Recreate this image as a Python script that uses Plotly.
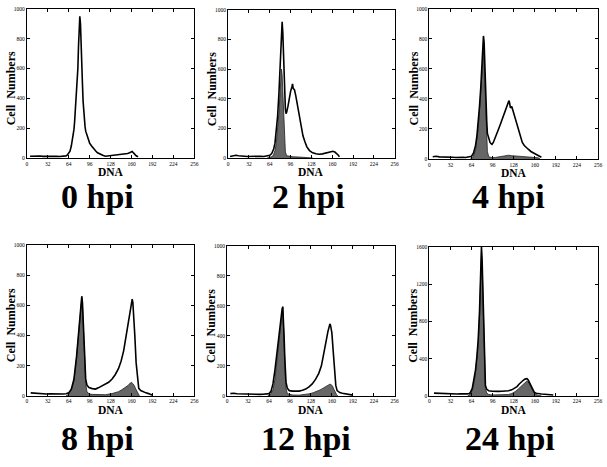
import plotly.graph_objects as go

W, H = 607, 467

# ---------------- data (DNA channel, cell numbers) ----------------
P1_LINE_X = [5,10,15,20,25,30,35,40,45,50,55,60,62,64,66,68,70,72,73,74,76,78,79,80,81,82,83,84,85,86,87,88,89,90,92,94,96,99,102,105,108,112,116,120,125,130,135,140,145,150,154,157,159,161,163,165,167,170]
P1_LINE_Y = [12,14,12,13,11,12,10,11,12,10,11,14,20,30,45,80,130,190,240,300,420,600,750,880,950,900,800,650,500,380,300,250,210,180,150,120,100,80,60,48,35,25,18,12,14,16,18,20,22,27,30,35,40,44,34,24,15,8]

P2_LINE_X = [3,8,12,16,20,25,30,35,40,45,50,55,60,64,67,70,72,74,76,78,80,81,82,83,84,85,86,87,88,89,90,92,94,96,98,99,100,102,104,106,108,110,112,115,118,121,125,130,135,140,145,150,155,158,161,164,167,169,171]
P2_LINE_Y = [10,14,18,15,12,12,10,11,10,11,12,10,12,18,30,60,100,170,280,430,650,800,900,920,850,700,520,400,330,300,310,350,410,450,480,500,470,460,420,370,310,260,210,150,110,75,50,35,28,25,28,32,38,42,45,40,30,20,8]
P2_FILL_X = [60,64,68,70,72,74,76,78,80,81,82,83,84,85,86,87,88,90,95,100,110,120,130]
P2_FILL_Y = [0,3,10,25,50,100,180,300,450,540,600,560,450,320,200,100,40,15,10,8,6,5,0]

P3_LINE_X = [5,10,15,20,25,30,35,40,45,50,55,60,64,67,70,72,74,76,78,80,81,82,83,84,85,86,87,88,90,92,94,95,97,100,102,105,108,110,112,114,116,118,120,121,123,125,127,129,132,135,138,141,144,147,150,154,158,162,166,170]
P3_LINE_Y = [15,18,14,12,12,10,11,10,12,11,10,12,18,40,90,150,230,350,480,650,760,820,780,620,480,340,250,170,130,110,100,97,110,140,165,200,235,260,290,320,340,360,380,388,340,350,320,290,230,190,150,110,90,75,65,50,40,30,22,12]
P3_FILL_X = [62,66,70,72,74,76,78,80,81,82,83,84,85,86,87,88,90,95,100,110,115,120,125,130,140,150,160,165,168]
P3_FILL_Y = [0,10,60,120,200,320,450,600,680,720,650,500,350,220,120,50,15,8,10,15,20,25,22,20,15,15,12,8,0]

P4_LINE_X = [6,10,15,20,25,30,35,40,45,50,55,60,64,68,72,76,80,82,84,85,86,87,88,89,90,92,95,100,105,110,115,120,125,130,135,140,144,148,152,155,158,160,161,162,163,165,167,169,171,174,178,182,186,190,192]
P4_LINE_Y = [20,18,15,14,14,12,13,12,11,12,12,14,20,45,110,260,460,580,660,620,500,370,250,160,110,70,55,48,45,55,65,75,90,110,140,180,230,300,400,470,560,610,640,620,560,400,220,110,50,35,25,20,15,10,5]
P4_FILL_X = [60,64,68,72,76,80,82,84,85,86,87,88,89,90,92,96,100,110,120,130,135,140,145,150,155,158,160,162,164,166,168,170,172]
P4_FILL_Y = [0,10,40,100,250,450,570,650,610,480,350,230,140,80,25,12,10,8,8,15,20,28,40,55,70,85,90,80,70,50,30,10,0]

P5_LINE_X = [5,10,15,20,25,30,35,40,45,50,55,60,64,67,70,73,76,79,82,84,85,86,87,88,89,90,92,95,100,105,110,115,120,125,130,135,140,144,148,151,154,156,157,158,160,162,164,166,168,172,176,180,185,190,192]
P5_LINE_Y = [15,18,14,13,12,12,11,12,12,10,11,12,15,30,80,170,290,420,520,580,595,520,400,260,150,90,50,35,32,30,32,38,45,60,80,110,150,200,280,360,430,470,480,470,420,300,160,70,35,22,18,15,12,10,5]
P5_FILL_X = [62,66,70,73,76,79,82,84,85,86,87,88,89,90,92,96,100,110,120,127,132,137,142,146,150,154,157,159,161,163,165,167,169]
P5_FILL_Y = [0,8,40,110,230,370,490,560,590,500,380,240,120,50,15,8,6,5,8,15,22,30,40,50,60,70,78,75,65,45,25,10,0]

P6_LINE_X = [7,12,17,22,27,32,37,42,47,52,57,60,62,65,68,70,72,74,76,77,78,79,80,81,82,83,84,85,87,90,95,100,105,110,115,120,125,130,133,136,139,142,145,147,148,150,152,154,156,159,162,166,170,175,180,185,188]
P6_LINE_Y = [30,28,25,22,24,20,22,20,22,20,22,25,35,80,180,280,420,600,900,1150,1400,1600,1450,1150,700,420,200,110,70,55,50,45,48,50,52,55,65,85,100,125,150,165,180,188,185,170,140,100,70,40,28,22,20,18,15,15,10]
P6_FILL_X = [58,62,65,68,70,72,74,76,77,78,79,80,81,82,83,84,85,87,90,95,100,110,120,125,130,135,140,144,147,148,150,153,156,160,165,170]
P6_FILL_Y = [0,20,60,150,250,380,560,860,1100,1350,1560,1400,1100,650,380,170,80,30,15,10,10,12,15,25,45,75,110,140,155,160,150,110,60,20,5,0]

X_TICKS = [0,32,64,96,128,160,192,224,256]
Y_TICKS_STD = [0,200,400,600,800,1000]
Y_TICKS_24 = [0,400,800,1200,1600]
LABELS = ["0 hpi","2 hpi","4 hpi","8 hpi","12 hpi","24 hpi"]

panels = [
    dict(line=(P1_LINE_X,P1_LINE_Y), fill=None, ymax=1000, yt=Y_TICKS_STD, box=(26,195,6,157), lab=(97,196)),
    dict(line=(P2_LINE_X,P2_LINE_Y), fill=(P2_FILL_X,P2_FILL_Y), ymax=1000, yt=Y_TICKS_STD, box=(229,397,7,157), lab=(310,196)),
    dict(line=(P3_LINE_X,P3_LINE_Y), fill=(P3_FILL_X,P3_FILL_Y), ymax=1000, yt=Y_TICKS_STD, box=(432,602,6,158), lab=(512,196)),
    dict(line=(P4_LINE_X,P4_LINE_Y), fill=(P4_FILL_X,P4_FILL_Y), ymax=1000, yt=Y_TICKS_STD, box=(26,195,245,398), lab=(97,441)),
    dict(line=(P5_LINE_X,P5_LINE_Y), fill=(P5_FILL_X,P5_FILL_Y), ymax=1000, yt=Y_TICKS_STD, box=(228,397,246,398), lab=(308,441)),
    dict(line=(P6_LINE_X,P6_LINE_Y), fill=(P6_FILL_X,P6_FILL_Y), ymax=1600, yt=Y_TICKS_24, box=(432,602,247,398), lab=(513,441)),
]

SERIF = "Liberation Serif"
fig = go.Figure()
annotations = []
layout = {}
for i, p in enumerate(panels):
    n = i + 1
    xa = "x" if n == 1 else f"x{n}"
    ya = "y" if n == 1 else f"y{n}"
    if p["fill"] is not None:
        fx, fy = p["fill"]
        fig.add_trace(go.Scatter(x=fx, y=fy, xaxis=xa, yaxis=ya, mode="lines",
                                 fill="tozeroy", fillcolor="#666666",
                                 line=dict(color="#222", width=0.8), hoverinfo="skip", showlegend=False))
    lx, ly = p["line"]
    fig.add_trace(go.Scatter(x=lx, y=ly, xaxis=xa, yaxis=ya, mode="lines",
                             line=dict(color="black", width=1.6), showlegend=False))
    l, r, t, b = p["box"]
    common = dict(showline=True, linecolor="black", linewidth=1, mirror="ticks",
                  ticks="inside", ticklen=3, tickcolor="black", showgrid=False, zeroline=False,
                  tickfont=dict(family=SERIF, size=5.5, color="black"))
    layout["xaxis" if n == 1 else f"xaxis{n}"] = dict(
        domain=[l / W, r / W], range=[0, 256], tickvals=X_TICKS, anchor=ya, **common)
    layout["yaxis" if n == 1 else f"yaxis{n}"] = dict(
        domain=[1 - b / H, 1 - t / H], range=[0, p["ymax"]], tickvals=p["yt"], anchor=xa, **common)
    # axis titles
    annotations.append(dict(text="<b>Cell  Numbers</b>", x=(l - 16) / W, y=1 - ((t + b) / 2 + 5) / H,
                            xref="paper", yref="paper", xanchor="center", yanchor="middle",
                            showarrow=False, textangle=-90,
                            font=dict(family=SERIF, size=12, color="black")))
    annotations.append(dict(text="<b>DNA</b>", x=((l + r) / 2) / W, y=1 - (b + 14.5) / H,
                            xref="paper", yref="paper", xanchor="center", yanchor="middle",
                            showarrow=False,
                            font=dict(family=SERIF, size=11.5, color="black")))
    lx0, ly0 = p["lab"]
    annotations.append(dict(text=f"<b>{LABELS[i]}</b>", x=lx0 / W, y=1 - ly0 / H,
                            xref="paper", yref="paper", xanchor="center", yanchor="middle",
                            showarrow=False,
                            font=dict(family=SERIF, size=34, color="black")))

fig.update_layout(width=W, height=H, margin=dict(l=0, r=0, t=0, b=0),
                  paper_bgcolor="white", plot_bgcolor="white",
                  annotations=annotations, **layout)
fig.write_html("out.html", config={"displayModeBar": False},
               post_script="document.body.style.margin='0px';document.body.style.padding='0px';document.body.style.overflow='hidden';")
